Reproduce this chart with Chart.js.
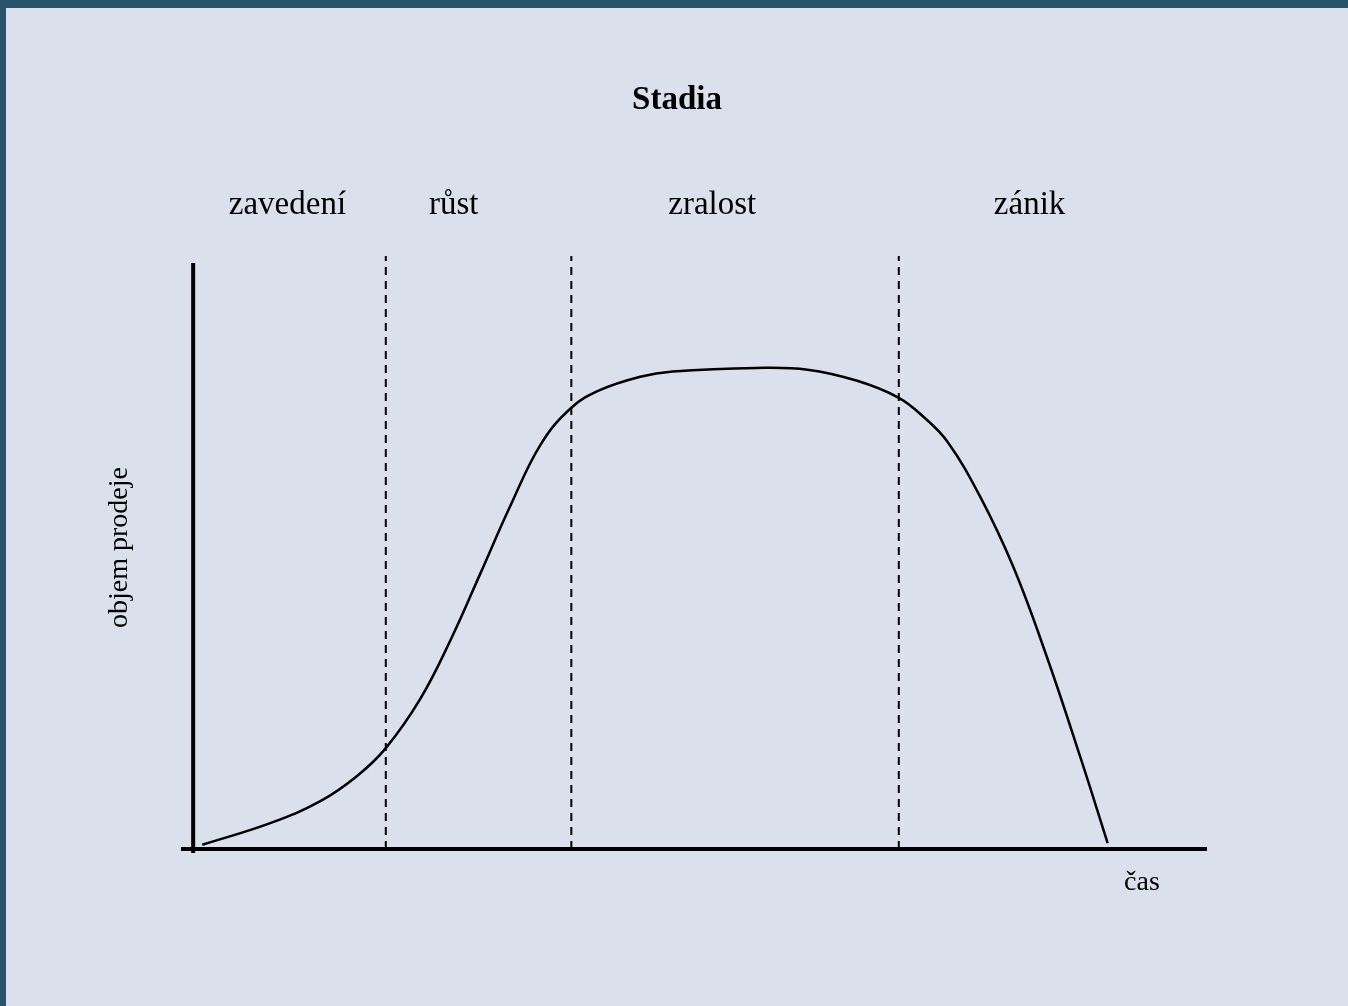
<!DOCTYPE html>
<html>
<head>
<meta charset="utf-8">
<script src="https://cdn.jsdelivr.net/npm/chart.js@4/dist/chart.umd.min.js"></script>
<style>
  html, body { margin: 0; padding: 0; background: #28536d; }
  #wrap { position: absolute; left: 6px; top: 8px; width: 1342px; height: 998px; background: #dae1ec; }
</style>
</head>
<body>
<div id="wrap"><canvas id="myChart" width="1342" height="998"></canvas></div>
<script>
// life cycle curve (time 0-100, sales 0-100)
const curveX = [0.9, 7.6, 12.5, 16.2, 19.0, 22.4, 25.4, 28.3, 31.3, 34.3, 37.3, 40.1, 44.1, 47.3, 55.6, 60.6, 65.5, 69.6, 72.0, 74.4, 77.6, 80.9, 84.2, 87.5, 90.2];
const curveY = [0.7, 4.4, 8.1, 12.5, 17.2, 25.6, 35.7, 46.9, 58.6, 69.1, 75.3, 78.3, 80.6, 81.5, 82.1, 81.8, 79.9, 77.0, 73.8, 69.5, 60.2, 48.1, 32.8, 15.7, 1.0];

// stage boundaries and stage names
const stageBounds = [19.0, 37.3, 69.6];
const stageNames = ['zavedení', 'růst', 'zralost', 'zánik'];
const stageNameX = [9.3, 25.7, 51.2, 82.5];

const title = 'Stadia';
const xTitle = 'čas';
const yTitle = 'objem prodeje';

const serif = '"Liberation Serif", "Times New Roman", serif';

const datasets = [{
  data: curveX.map((x, i) => ({ x: x, y: curveY[i] })),
  borderColor: '#000',
  borderWidth: 2.5,
  pointRadius: 0,
  showLine: true,
  tension: 0.4
}];
stageBounds.forEach(b => {
  datasets.push({
    data: [{ x: b, y: 0 }, { x: b, y: 101.2 }],
    borderColor: '#000',
    borderWidth: 2,
    borderDash: [8, 6],
    pointRadius: 0,
    showLine: true
  });
});

// axes with small overhang + all the text
const drawings = {
  id: 'drawings',
  afterDatasetsDraw(chart) {
    const c = chart.ctx;
    const xs = chart.scales.x, ys = chart.scales.y;
    const area = chart.chartArea;
    c.save();
    c.strokeStyle = '#000';
    c.lineWidth = 4;
    c.beginPath();
    c.moveTo(xs.getPixelForValue(0), ys.getPixelForValue(100));
    c.lineTo(xs.getPixelForValue(0), ys.getPixelForValue(ys.min));
    c.moveTo(xs.getPixelForValue(xs.min), ys.getPixelForValue(0));
    c.lineTo(xs.getPixelForValue(100), ys.getPixelForValue(0));
    c.stroke();

    c.fillStyle = '#000';
    c.textAlign = 'center';
    c.textBaseline = 'alphabetic';
    c.font = 'bold 33px ' + serif;
    c.fillText(title, chart.width / 2, 101);

    c.font = '33px ' + serif;
    stageNames.forEach((s, i) => c.fillText(s, xs.getPixelForValue(stageNameX[i]), area.top - 42));

    c.font = '28px ' + serif;
    c.fillText(xTitle, area.right - 65, area.bottom + 37);

    c.translate(121, (area.top + area.bottom) / 2 - 7);
    c.rotate(-Math.PI / 2);
    c.fillText(yTitle, 0, 0);
    c.restore();
  }
};

const ctx = document.getElementById('myChart').getContext('2d');

new Chart(ctx, {
  type: 'scatter',
  data: { datasets: datasets },
  options: {
    responsive: false,
    animation: false,
    layout: { padding: { left: 175, right: 141, top: 248, bottom: 153 } },
    plugins: { legend: { display: false }, tooltip: { enabled: false } },
    scales: {
      x: { type: 'linear', display: false, min: -1.2, max: 100 },
      y: { type: 'linear', display: false, min: -0.7, max: 101.2 }
    }
  },
  plugins: [drawings]
});
</script>
</body>
</html>
